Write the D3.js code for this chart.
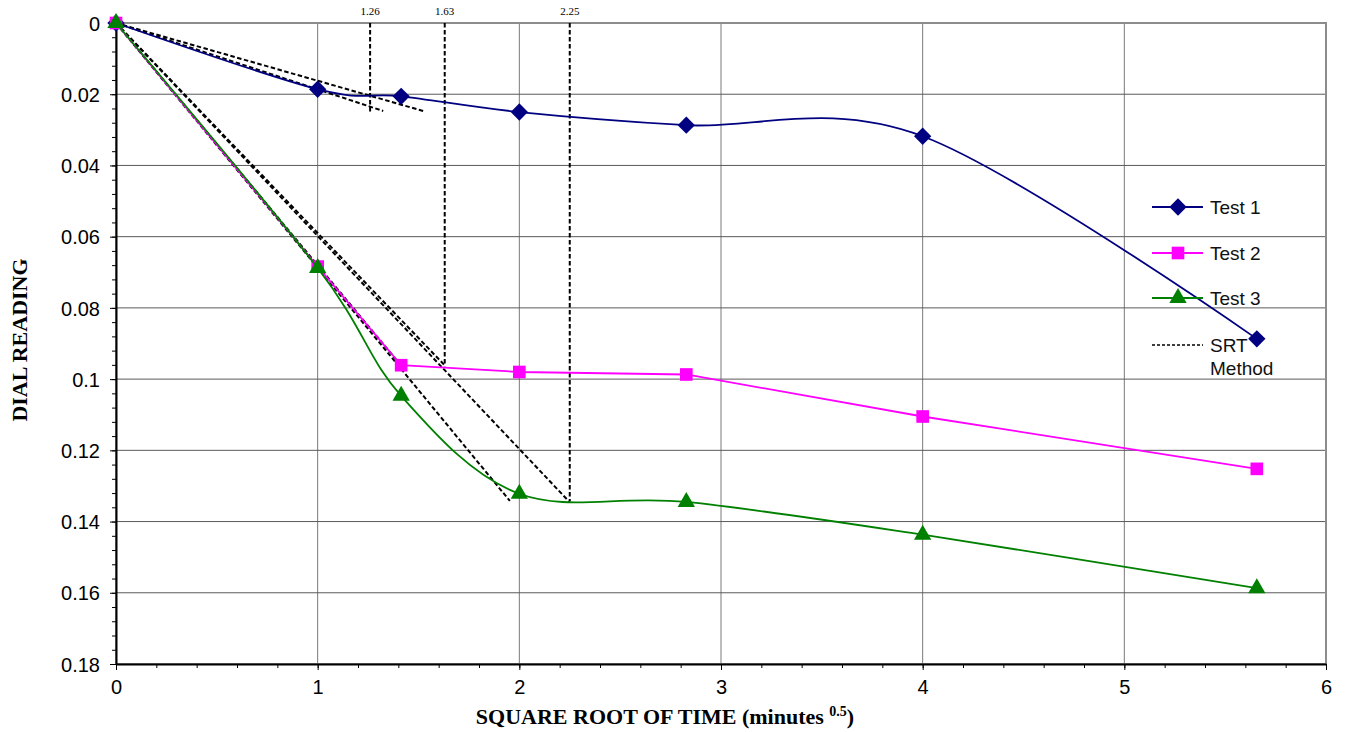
<!DOCTYPE html>
<html>
<head>
<meta charset="utf-8">
<script src="https://cdn.jsdelivr.net/npm/d3@7"></script>
<style>
  body { margin: 0; background: #fff; }
  .tick text { font-family: "Liberation Sans", Arial, sans-serif; font-size: 20px; fill: #000; }
  .title { font-family: "Liberation Serif", "Times New Roman", serif; font-weight: bold; font-size: 22px; }
  .srt-label { font-family: "Liberation Serif", "Times New Roman", serif; font-size: 11px; }
  .legend text { font-family: "Liberation Sans", Arial, sans-serif; font-size: 19px; fill: #111; }
</style>
</head>
<body>
<div id="chart"></div>
<script>
// square root of time (minutes^0.5)
var sqrtTime = [0, 1, 1.414, 2, 2.828, 4, 5.657];
// dial readings per test
var test1 = [0, 0.0186, 0.0206, 0.0250, 0.0287, 0.0318, 0.0887];
var test2 = [0, 0.0684, 0.0961, 0.0980, 0.0987, 0.1105, 0.1252];
var test3 = [0, 0.0688, 0.1047, 0.1322, 0.1345, 0.1437, 0.1587];
// SRT construction lines [x1, y1, x2, y2]
var srtLines = [
  [0, 0, 1.325, 0.0247],
  [0, 0, 1.523, 0.0247],
  [0, 0, 1.414, 0.0962],
  [0, 0, 1.631, 0.0962],
  [0, 0, 1.953, 0.1342],
  [0, 0, 2.247, 0.1344]
];
// vertical SRT markers [x, depth]
var srtMarks = [[1.26, 0.0252], [1.63, 0.0964], [2.25, 0.1344]];
var xTicks = [0, 1, 2, 3, 4, 5, 6];
var yTicks = [0, 0.02, 0.04, 0.06, 0.08, 0.1, 0.12, 0.14, 0.16, 0.18];

var W = 1346, H = 732;
var m = [23, 20, 68, 116]; // top, right, bottom, left
var w = W - m[1] - m[3], h = H - m[0] - m[2];

var svg = d3.select("#chart").append("svg").attr("width", W).attr("height", H);
var g = svg.append("g").attr("transform", "translate(" + m[3] + "," + m[0] + ")");

var x = d3.scaleLinear().domain([0, 6]).range([0, w]);
var y = d3.scaleLinear().domain([0, 0.18]).range([0, h]);

// rotated square for the Test 1 diamond
var diamond = {
  draw: function(ctx, size) {
    var r = Math.sqrt(size / 2);
    ctx.moveTo(0, -r); ctx.lineTo(r, 0); ctx.lineTo(0, r); ctx.lineTo(-r, 0); ctx.closePath();
  }
};

// grid
g.append("g").selectAll("line").data(xTicks.slice(1)).enter().append("line")
  .attr("x1", function(d) { return x(d); }).attr("x2", function(d) { return x(d); })
  .attr("y1", 0).attr("y2", h).attr("stroke", "#7a7a7a").attr("stroke-width", 1);
g.append("g").selectAll("line").data(yTicks.slice(1, -1)).enter().append("line")
  .attr("y1", function(d) { return y(d); }).attr("y2", function(d) { return y(d); })
  .attr("x1", 0).attr("x2", w).attr("stroke", "#5a5a5a").attr("stroke-width", 1);
g.append("rect").attr("width", w).attr("height", h).attr("fill", "none")
  .attr("stroke", "#8c8c8c").attr("stroke-width", 2);

// minor ticks
g.append("g").attr("transform", "translate(0," + h + ")")
  .call(d3.axisBottom(x).tickValues(d3.range(0, 6.01, 0.2)).tickSize(4).tickFormat(""))
  .call(function(s) { s.select(".domain").remove(); });
g.append("g")
  .call(d3.axisLeft(y).tickValues(d3.range(0, 0.1801, 0.004)).tickSize(4).tickFormat(""))
  .call(function(s) { s.select(".domain").remove(); });

// axes
var xAxis = g.append("g").attr("transform", "translate(0," + h + ")")
  .call(d3.axisBottom(x).tickValues(xTicks).tickSize(6).tickPadding(10).tickSizeOuter(0)
    .tickFormat(d3.format("d")));
var yAxis = g.append("g")
  .call(d3.axisLeft(y).tickValues(yTicks).tickSize(6).tickPadding(10).tickSizeOuter(0)
    .tickFormat(function(d) { return String(+d.toFixed(2)); }));
[xAxis, yAxis].forEach(function(a) {
  a.select(".domain").attr("stroke", "#000").attr("stroke-width", 2);
});
yAxis.selectAll(".tick text").attr("dy", "0.36em");

// SRT lines
var dash = "4.5,2.5";
g.append("g").selectAll("line").data(srtLines).enter().append("line")
  .attr("x1", function(d) { return x(d[0]); }).attr("y1", function(d) { return y(d[1]); })
  .attr("x2", function(d) { return x(d[2]); }).attr("y2", function(d) { return y(d[3]); })
  .attr("stroke", "#000").attr("stroke-width", 2).attr("stroke-dasharray", dash);
var marks = g.append("g").selectAll("g").data(srtMarks).enter().append("g");
marks.append("line")
  .attr("x1", function(d) { return x(d[0]); }).attr("x2", function(d) { return x(d[0]); })
  .attr("y1", 0).attr("y2", function(d) { return y(d[1]); })
  .attr("stroke", "#000").attr("stroke-width", 2).attr("stroke-dasharray", dash);
marks.append("text").attr("class", "srt-label")
  .attr("x", function(d) { return x(d[0]); }).attr("y", -8)
  .attr("text-anchor", "middle").text(function(d) { return d[0].toFixed(2); });

// series
var series = [
  { name: "Test 1", values: test1, color: "#000080", shape: diamond, size: 150, curve: d3.curveCardinal.tension(0) },
  { name: "Test 2", values: test2, color: "#ff00ff", shape: d3.symbolSquare, size: 160, curve: d3.curveLinear },
  { name: "Test 3", values: test3, color: "#008000", shape: d3.symbolTriangle, size: 130, curve: d3.curveCardinal.tension(0) }
];
series.forEach(function(s) {
  var pts = sqrtTime.map(function(t, i) { return [t, s.values[i]]; });
  var line = d3.line().x(function(d) { return x(d[0]); }).y(function(d) { return y(d[1]); }).curve(s.curve);
  g.append("path").datum(pts).attr("d", line).attr("fill", "none")
    .attr("stroke", s.color).attr("stroke-width", 1.8);
  g.append("g").selectAll("path").data(pts).enter().append("path")
    .attr("d", d3.symbol().type(s.shape).size(s.size))
    .attr("transform", function(d) { return "translate(" + x(d[0]) + "," + y(d[1]) + ")"; })
    .attr("fill", s.color);
});

// legend
var legend = svg.append("g").attr("class", "legend").attr("transform", "translate(1152,0)");
var rows = [207, 253, 298];
series.forEach(function(s, i) {
  var r = legend.append("g").attr("transform", "translate(0," + rows[i] + ")");
  r.append("line").attr("x1", 0).attr("x2", 51).attr("stroke", s.color).attr("stroke-width", 1.8);
  r.append("path").attr("d", d3.symbol().type(s.shape).size(s.size)).attr("transform", "translate(26,0)").attr("fill", s.color);
  r.append("text").attr("x", 58).attr("dy", "0.36em").text(s.name);
});
var srtRow = legend.append("g").attr("transform", "translate(0,345)");
srtRow.append("line").attr("x1", 0).attr("x2", 51).attr("stroke", "#000").attr("stroke-width", 1.5).attr("stroke-dasharray", "3,2");
srtRow.append("text").attr("x", 58).attr("dy", "0.36em").text("SRT");
srtRow.append("text").attr("x", 58).attr("y", 23).attr("dy", "0.36em").text("Method");

// axis titles
var xt = svg.append("text").attr("class", "title").attr("x", 665).attr("y", 724).attr("text-anchor", "middle");
xt.append("tspan").text("SQUARE ROOT OF TIME (minutes ");
xt.append("tspan").attr("font-size", "14px").attr("dy", "-8").text("0.5");
xt.append("tspan").attr("dy", "8").text(")");
svg.append("text").attr("class", "title").attr("text-anchor", "middle")
  .attr("transform", "translate(27,340) rotate(-90)").text("DIAL READING");
</script>
</body>
</html>
